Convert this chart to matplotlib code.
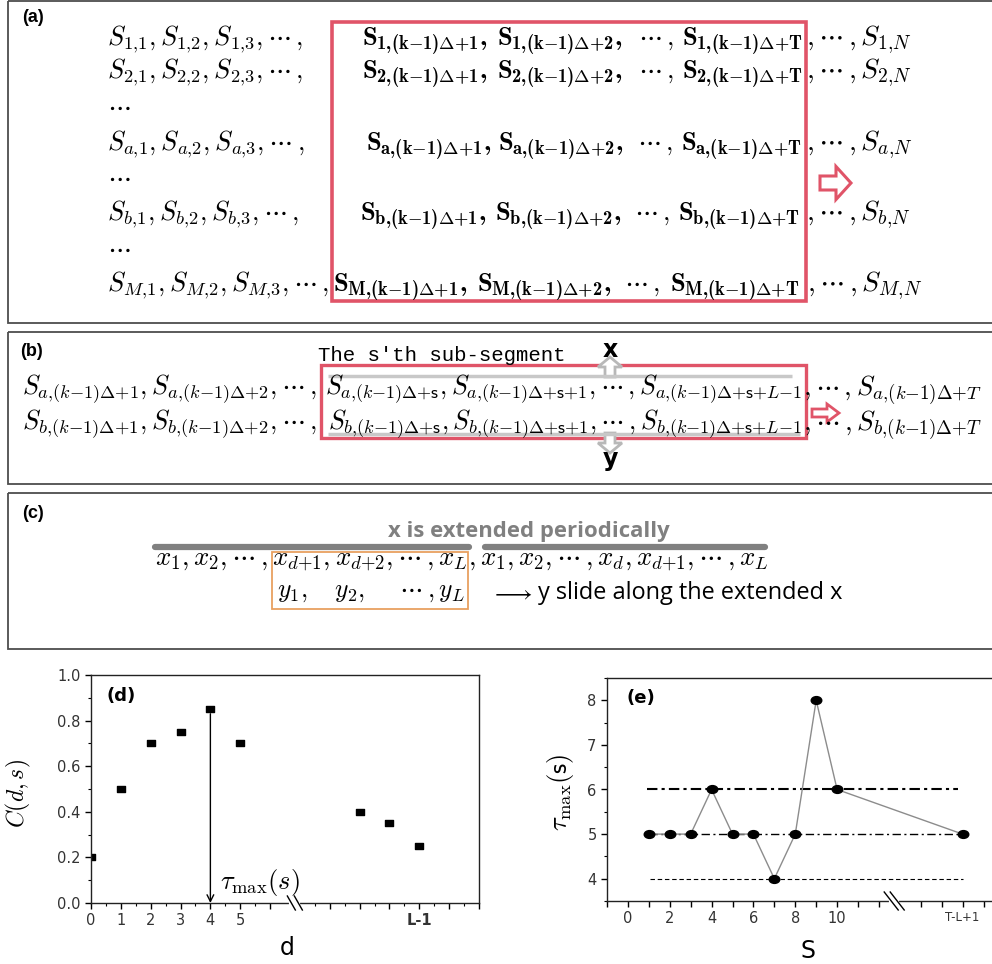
import numpy as np
import matplotlib
matplotlib.use("Agg")
import matplotlib.pyplot as plt
import matplotlib.patches as mpatches
from matplotlib.path import Path
from matplotlib.transforms import Affine2D

plt.rcParams['mathtext.fontset'] = 'cm'
# a bold Computer Modern set for the highlighted window entries
plt.rcParams['mathtext.rm'] = 'cmb10'
plt.rcParams['mathtext.it'] = 'cmb10'
plt.rcParams['mathtext.bf'] = 'cmb10'
plt.rcParams['mathtext.fallback'] = 'cm'
plt.rcParams['font.family'] = ['DejaVu Sans']

# ---------------- data ----------------
# panel (d): correlation C(d, s) versus lag d
d_vals = [0, 1, 2, 3, 4, 5, 9, 10, 11]
C_vals = [0.2, 0.5, 0.7, 0.75, 0.85, 0.7, 0.4, 0.35, 0.25]
d_tick_pos = [0, 1, 2, 3, 4, 5, 11]
d_tick_lab = ['0', '1', '2', '3', '4', '5', 'L-1']

# panel (e): tau_max(s) versus sub-segment index s
s_vals = [1, 2, 3, 4, 5, 6, 7, 8, 9, 10, 16]
tau_vals = [5, 5, 5, 6, 5, 5, 4, 5, 8, 6, 5]
s_tick_pos = [0, 2, 4, 6, 8, 10, 16]
s_tick_lab = ['0', '2', '4', '6', '8', '10', 'T-L+1']
ref_levels = [6, 5, 4]
ref_start = [0.9, 1.0, 1.05]
ref_end = [15.8, 16.0, 16.0]

# panel (a): row indices of the multichannel series
a_rows = ['1', '2', 'a', 'b', 'M']

# ---------------- figure ----------------
W, H = 992, 964
fig = plt.figure(figsize=(W / 100, H / 100), dpi=100)
cv = fig.add_axes([0, 0, 1, 1])
cv.set_xlim(0, W)
cv.set_ylim(H, 0)
cv.axis('off')
renderer = fig.canvas.get_renderer()

RED = '#e05468'
FRAME = '#4d4d4d'
BOLD = dict(math_fontfamily='custom')
DOTS = r"\cdots\,"


def size_for(s, width, **kw):
    t = cv.text(0, 0, s, fontsize=20, **kw)
    w = t.get_window_extent(renderer).width
    t.remove()
    return 20 * width / w


def fit_text(x0, x1, y, s, va='baseline', **kw):
    fs = size_for(s, x1 - x0, **kw)
    return cv.text(x0, y, s, fontsize=fs, ha='left', va=va, **kw)


def hollow_arrow(x, y, dx, dy, w, hw, hl, color, lw):
    cv.add_patch(mpatches.FancyArrow(x, y, dx, dy, width=w, head_width=hw,
                                     head_length=hl, length_includes_head=True,
                                     facecolor='white', edgecolor=color, lw=lw))


def sub(r, tail):
    # S_{r,(k-1)Delta+tail}, set tight as in script style
    return rf"S_{{{r}{{,}}(k{{-}}1)\Delta{{+}}{tail}}}"


# panel frames
for (y0, y1) in [(1, 323), (332, 484), (493, 649)]:
    cv.add_patch(mpatches.Rectangle((8, y0), 1000, y1 - y0, fill=False,
                                    edgecolor=FRAME, lw=1.3))

lab_kw = dict(fontfamily='Liberation Sans', fontweight='bold', fontsize=13,
              va='center', ha='left')
cv.text(22, 18, '(a)', **lab_kw)
cv.text(20, 352, '(b)', **lab_kw)
cv.text(22, 513, '(c)', **lab_kw)

# ---------------- panel (a) ----------------
a_base = [45, 78, 150, 220, 291]
a_p1 = [362, 362, 366, 360, 333]
a_p2 = [497, 497, 498, 495, 477]
a_p3 = [682, 682, 681, 678, 670]
a_rgt = [806, 806, 806, 806, 807]

fs_left = size_for(rf"$S_{{1{{,}}1}}, S_{{1{{,}}2}}, S_{{1{{,}}3}}, {DOTS},$", 303 - 107)
fs_bold = size_for(rf"${sub('1', 'T')}$", 803 - 682, **BOLD)
fs_right = size_for(rf"$, {DOTS}, S_{{1{{,}}N}}$", 912 - 806)

for i, r in enumerate(a_rows):
    yb = a_base[i]
    cv.text(107, yb,
            rf"$S_{{{r}{{,}}1}}, S_{{{r}{{,}}2}}, S_{{{r}{{,}}3}}, {DOTS},$",
            fontsize=fs_left, va='baseline')
    cv.text(a_p1[i], yb, rf"${sub(r, '1')},$", fontsize=fs_bold,
            va='baseline', **BOLD)
    cv.text(a_p2[i], yb, rf"${sub(r, '2')},$", fontsize=fs_bold,
            va='baseline', **BOLD)
    cv.text(a_p2[i] + 0.76 * (a_p3[i] - a_p2[i]), yb, rf"${DOTS},$",
            fontsize=fs_left, va='baseline')
    cv.text(a_p3[i], yb, rf"${sub(r, 'T')}$", fontsize=fs_bold,
            va='baseline', **BOLD)
    cv.text(a_rgt[i], yb, rf"$, {DOTS}, S_{{{r}{{,}}N}}$",
            fontsize=fs_right, va='baseline')

for yd in [107, 178, 249]:
    cv.text(107, yd, r"$\cdots$", fontsize=fs_left, va='center')

cv.add_patch(mpatches.Rectangle((332, 22), 806 - 332, 301 - 22, fill=False,
                                edgecolor=RED, lw=2.6))
hollow_arrow(820, 183, 31, 0, 14, 33, 15, RED, 2.2)

# ---------------- panel (b) ----------------
fit_text(318, 565, 361, "The s'th sub-segment", fontfamily='Liberation Mono')

for r, yb, xm in [('a', 395, 325), ('b', 430, 328)]:
    fit_text(22, 317, yb, rf"${sub(r, '1')}, {sub(r, '2')}, {DOTS},$")
    fit_text(xm, 802, yb,
             rf"${sub(r, r'\mathsf{s}')}, {sub(r, r'\mathsf{s}{+}1')}, {DOTS}, "
             rf"{sub(r, r'\mathsf{s}{+}L{-}1')}$")
    fit_text(803, 982, yb, rf"$, {DOTS}, {sub(r, 'T')}$")

cv.plot([328, 792], [376, 376], color='#c8c8c8', lw=2.5, solid_capstyle='butt')
cv.plot([328, 800], [434, 434], color='#c8c8c8', lw=2.5, solid_capstyle='butt')
cv.add_patch(mpatches.Rectangle((321, 365), 806 - 321, 438 - 365, fill=False,
                                edgecolor=RED, lw=2.4))
hollow_arrow(610, 377, 0, -20, 10, 24, 10, '#b8b8b8', 2.0)
hollow_arrow(610, 433, 0, 20, 10, 24, 10, '#b8b8b8', 2.0)
cv.text(610, 350, 'x', fontsize=17, fontweight='bold', ha='center', va='center')
cv.text(610, 459, 'y', fontsize=17, fontweight='bold', ha='center', va='center')
hollow_arrow(812, 413, 27, 0, 8, 18, 12, RED, 2.0)

# ---------------- panel (c) ----------------
fit_text(388, 668, 532, 'x is extended periodically', va='center',
         fontfamily='Open Sans', fontweight='bold', color='#808080')
cv.plot([155, 469], [547, 547], color='#808080', lw=4.5, solid_capstyle='round')
cv.plot([485, 765], [547, 547], color='#808080', lw=4.5, solid_capstyle='round')
fit_text(155, 769, 565,
         rf"$x_1, x_2, {DOTS}, x_{{d{{+}}1}}, x_{{d{{+}}2}}, {DOTS}, x_L, x_1, x_2, "
         rf"{DOTS}, x_d, x_{{d{{+}}1}}, {DOTS}, x_L$")
cv.add_patch(mpatches.Rectangle((272, 552), 468 - 272, 609 - 552, fill=False,
                                edgecolor='#e8a060', lw=1.3))
fit_text(277, 465, 597, rf"$y_1,\quad y_2,\quad\ {DOTS}, y_L$")
fit_text(490, 532, 593, r"$\longrightarrow$", va='center')
fit_text(538, 842, 593, 'y slide along the extended x', va='center',
         fontfamily='Open Sans')

# ---------------- panel (d) ----------------
axd = fig.add_axes([91 / W, (H - 903) / H, 388 / W, 228 / H])
axd.set_facecolor('none')
rect = Path([(-1, -0.62), (1, -0.62), (1, 0.62), (-1, 0.62), (-1, -0.62)],
            [Path.MOVETO, Path.LINETO, Path.LINETO, Path.LINETO, Path.CLOSEPOLY])
axd.plot(d_vals, C_vals, linestyle='none', marker=rect, ms=6.2, color='black')
axd.set_xlim(0, 13)
axd.set_ylim(0, 1)

i_max = int(np.argmax(C_vals))
d_max, c_max = d_vals[i_max], C_vals[i_max]
axd.annotate('', xy=(d_max, 0.0), xytext=(d_max, c_max - 0.02),
             arrowprops=dict(arrowstyle='->', lw=1.0, color='black',
                             shrinkA=0, shrinkB=0, mutation_scale=12))
axd.text(d_max + 0.33, 0.088, r"$\tau_{\max}(s)$", fontsize=19, ha='left',
         va='center')
axd.text(0.04, 0.91, '(d)', transform=axd.transAxes, fontsize=13,
         fontweight='bold', ha='left', va='center')

d_major = [0, 1, 2, 3, 4, 5, 6, 8, 9, 10, 11, 12, 13]
d_minor = [0.5, 1.5, 2.5, 3.5, 4.5, 5.5, 7.5, 8.5, 9.5, 10.5, 11.5, 12.5]
axd.set_xticks(d_major)
axd.set_xticklabels([d_tick_lab[d_tick_pos.index(v)] if v in d_tick_pos else ''
                     for v in d_major])
axd.set_xticks(d_minor, minor=True)
axd.set_yticks(np.round(np.arange(0, 1.01, 0.2), 1))
axd.set_yticklabels([f'{v:.1f}' for v in np.arange(0, 1.01, 0.2)])
axd.set_yticks(np.round(np.arange(0.1, 1.0, 0.2), 1), minor=True)
for lab in axd.get_xticklabels():
    if lab.get_text() == 'L-1':
        lab.set_fontweight('bold')
        lab.set_fontsize(9)

axd.set_xlabel('d', fontsize=17)
axd.xaxis.set_label_coords(0.505, -0.145)
axd.set_ylabel(r"$C(d,s)$", fontsize=17)
axd.yaxis.set_label_coords(-0.15, 0.48)


def style_axes(ax):
    ax.tick_params(which='major', direction='out', length=4.5, width=1,
                   labelsize=10.5, labelcolor='#333333', pad=3)
    ax.tick_params(which='minor', direction='out', length=2.5, width=0.8)
    for sp in ax.spines.values():
        sp.set_linewidth(1.0)
        sp.set_color('#222222')


style_axes(axd)


def draw_break(ax, xfrac, hw, hh, sep, axw, axh):
    # two parallel backslash strokes across the x axis, with a gap in the spine
    hwf, hhf, sf = hw / axw, hh / axh, sep / axw
    ax.plot([xfrac - sf / 2, xfrac + sf / 2], [0, 0], transform=ax.transAxes,
            color='white', lw=3, clip_on=False, zorder=5)
    for c in (xfrac - sf / 2, xfrac + sf / 2):
        ax.plot([c - hwf, c + hwf], [hhf, -hhf], transform=ax.transAxes,
                color='black', lw=1.0, clip_on=False, zorder=6)


draw_break(axd, 6.83 / 13, 4, 7, 7, 388, 228)

# ---------------- panel (e) ----------------
axe = fig.add_axes([607 / W, (H - 901) / H, 387 / W, 223 / H])
axe.set_facecolor('none')
axe.set_xlim(-1, 17.5)
axe.set_ylim(3.5, 8.5)

axe.hlines(ref_levels[0], ref_start[0], ref_end[0], colors='black', lw=1.5,
           linestyles=(0, (5, 2, 1.5, 2)))
axe.hlines(ref_levels[1], ref_start[1], ref_end[1], colors='black', lw=1.0,
           linestyles=(0, (6, 2.5, 1.5, 2.5)))
axe.hlines(ref_levels[2], ref_start[2], ref_end[2], colors='black', lw=0.8,
           linestyles=(0, (4, 2.5)))

ell = Path.unit_circle().transformed(Affine2D().scale(1.0, 0.74))
axe.plot(s_vals, tau_vals, color='#8c8c8c', lw=1.0, zorder=3)
axe.plot(s_vals, tau_vals, linestyle='none', marker=ell, ms=7.6,
         color='black', zorder=4)
axe.text(0.05, 0.91, '(e)', transform=axe.transAxes, fontsize=13,
         fontweight='bold', ha='left', va='center')

s_major = list(range(-1, 13)) + [14, 15, 16, 17]
axe.set_xticks(s_major)
axe.set_xticklabels([s_tick_lab[s_tick_pos.index(v)] if v in s_tick_pos else ''
                     for v in s_major])
axe.set_yticks([4, 5, 6, 7, 8])
axe.set_yticks([3.5, 4.5, 5.5, 6.5, 7.5, 8.5], minor=True)
style_axes(axe)
for lab in axe.get_xticklabels():
    if lab.get_text() == 'T-L+1':
        lab.set_fontsize(8.5)
axe.spines['right'].set_visible(False)

axe.set_xlabel('S', fontsize=17)
axe.xaxis.set_label_coords(0.52, -0.17)
axe.set_ylabel(r"$\tau_{\max}(\mathsf{s})$", fontsize=19)
axe.yaxis.set_label_coords(-0.08, 0.49)

draw_break(axe, (12.73 + 1) / 18.5, 7, 9, 6, 387, 223)

fig.savefig('out.png', dpi=100)
